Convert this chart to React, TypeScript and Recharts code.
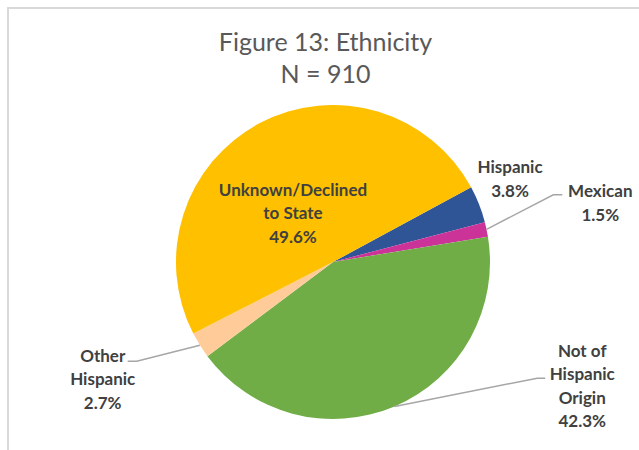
import { PieChart, Pie, Cell } from "recharts";

// slice order follows the picture clockwise from the blue wedge
const categories = ["Hispanic", "Mexican", "Not of Hispanic Origin", "Other Hispanic", "Unknown/Declined to State"];
const shares = [3.8, 1.5, 42.3, 2.7, 49.6];
const labelLines = [
  ["Hispanic"],
  ["Mexican"],
  ["Not of", "Hispanic", "Origin"],
  ["Other", "Hispanic"],
  ["Unknown/Declined", "to State"],
];
const colors = ["#2F5597", "#CC3399", "#70AD47", "#FFCC99", "#FFC000"];

// label placement: polar position of the label block centre, and leader line end/elbow offsets
const labelLayout = [
  { angle: 25.4, radius: 196, line: null },
  { angle: 12.7, radius: 274, line: { dx: -38, dy: -7, elbow: -47 } },
  { angle: -26.3, radius: 278, line: { dx: -37, dy: -7, elbow: -45 } },
  { angle: -153.2, radius: 258, line: { dx: 25, dy: -17, elbow: 34 } },
  { angle: 128.7, radius: 64, line: null },
];

const data = categories.map((name, i) => ({ name, value: shares[i] }));
const RAD = Math.PI / 180;
const LINE_H = 23.5;

const renderLabel = (props: any) => {
  const { cx, cy, midAngle, outerRadius, index, value } = props;
  const lay = labelLayout[index];
  const lx = cx + lay.radius * Math.cos(lay.angle * RAD);
  const ly = cy - lay.radius * Math.sin(lay.angle * RAD);
  const lines = [...labelLines[index], `${value.toFixed(1)}%`];
  const top = ly - ((lines.length - 1) * LINE_H) / 2;
  let leader = null;
  if (lay.line) {
    const sx = cx + outerRadius * Math.cos(-midAngle * RAD);
    const sy = cy + outerRadius * Math.sin(-midAngle * RAD);
    const ey = ly + lay.line.dy;
    leader = (
      <polyline
        points={`${sx},${sy} ${lx + lay.line.elbow},${ey} ${lx + lay.line.dx},${ey}`}
        fill="none"
        stroke="#A6A6A6"
        strokeWidth={1.5}
      />
    );
  }
  return (
    <g key={`lbl-${index}`}>
      {leader}
      <text
        x={lx}
        y={top}
        textAnchor="middle"
        dominantBaseline="central"
        fontFamily="Lato, sans-serif"
        fontWeight="bold"
        fontSize={17}
        fill="#404040"
      >
        {lines.map((t, i) => (
          <tspan key={i} x={lx} y={top + i * LINE_H}>
            {t}
          </tspan>
        ))}
      </text>
    </g>
  );
};

export default function App() {
  return (
    <div style={{ position: "absolute", left: 0, top: 0, width: 639, height: 450, overflow: "hidden", background: "#fff" }}>
      <div
        style={{
          position: "absolute",
          left: 7,
          top: 7,
          width: 700,
          height: 500,
          border: "2px solid #D9D9D9",
        }}
      />
      <div
        style={{
          position: "absolute",
          left: 0,
          top: 25,
          width: 651,
          textAlign: "center",
          fontFamily: "Lato, sans-serif",
          fontSize: 25,
          lineHeight: "32px",
          color: "#595959",
        }}
      >
        Figure 13: Ethnicity
        <br />N = 910
      </div>
      <div style={{ position: "absolute", left: 0, top: 0 }}>
        <PieChart width={639} height={450} margin={{ top: 0, right: 0, bottom: 0, left: 0 }}>
          <Pie
            data={data}
            dataKey="value"
            nameKey="name"
            cx={333}
            cy={262}
            outerRadius={157}
            startAngle={28.4}
            endAngle={-331.6}
            stroke="none"
            label={renderLabel}
            labelLine={false}
            isAnimationActive={false}
          >
            {data.map((d, i) => (
              <Cell key={d.name} fill={colors[i]} />
            ))}
          </Pie>
        </PieChart>
      </div>
    </div>
  );
}
